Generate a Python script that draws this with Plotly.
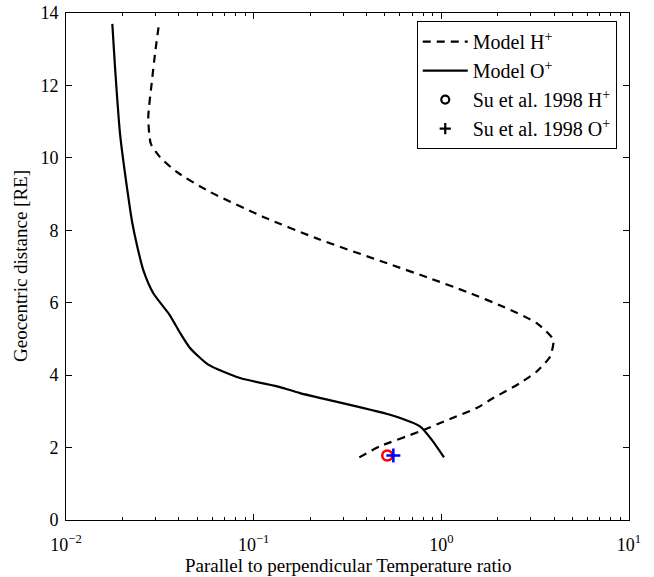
import plotly.graph_objects as go

# Model H+ (dashed) : ratio vs geocentric distance
h_ratio = [0.3655, 0.471, 0.7697, 1.112, 1.543, 1.892, 2.625, 3.222, 3.793, 3.951,
           3.222, 2.138, 1.365, 0.870, 0.515, 0.2168, 0.1125, 0.0585, 0.0389, 0.0317,
           0.0283, 0.02745, 0.0286, 0.0298, 0.0313]
h_dist = [1.73, 2.034, 2.447, 2.789, 3.092, 3.367, 3.78, 4.10, 4.51, 4.974,
          5.434, 5.89, 6.30, 6.674, 7.087, 7.776, 8.37, 9.06, 9.61, 10.02,
          10.39, 11.13, 12.05, 12.87, 13.70]

# Model O+ (solid)
o_ratio = [1.033, 0.888, 0.7697, 0.5325, 0.1766, 0.138, 0.0846, 0.0573, 0.0458, 0.0405,
           0.0357, 0.02919, 0.02582, 0.02399, 0.02256, 0.02148, 0.0194, 0.01825, 0.01765]
o_dist = [1.73, 2.218, 2.585, 2.907, 3.505, 3.67, 3.92, 4.29, 4.75, 5.17,
          5.66, 6.26, 6.90, 7.545, 8.20, 8.92, 10.67, 12.50, 13.70]

# Su et al. 1998 observations
su_h_ratio = [0.515]
su_h_dist = [1.78]
su_o_ratio = [0.555]
su_o_dist = [1.78]

x_tickvals = [0.01, 0.1, 1, 10]
x_ticktext = ["10<sup>\u22122</sup>", "10<sup>\u22121</sup>", "10<sup>0</sup>", "10<sup>1</sup>"]
y_tickvals = [0, 2, 4, 6, 8, 10, 12, 14]

minor_x = [m * 10 ** e for e in (-2, -1, 0) for m in range(2, 10)]

font = "Liberation Serif, Times New Roman, serif"

fig = go.Figure()
fig.add_trace(go.Scatter(x=h_ratio, y=h_dist, mode="lines", name="Model H<sup>+</sup>",
                         line=dict(color="black", width=2.2, dash="8px,6px", shape="spline", smoothing=0.6)))
fig.add_trace(go.Scatter(x=o_ratio, y=o_dist, mode="lines", name="Model O<sup>+</sup>",
                         line=dict(color="black", width=2.2, shape="spline", smoothing=0.6)))
# legend entries (black markers as in reference legend)
fig.add_trace(go.Scatter(x=[None], y=[None], mode="markers", name="Su et al. 1998 H<sup>+</sup>",
                         marker=dict(symbol="circle-open", color="black", size=8, line=dict(width=2.2))))
fig.add_trace(go.Scatter(x=[None], y=[None], mode="markers", name="Su et al. 1998 O<sup>+</sup>",
                         marker=dict(symbol="cross-thin", color="black", size=8, line=dict(width=2.2, color="black"))))
# plotted observation markers
fig.add_trace(go.Scatter(x=su_h_ratio, y=su_h_dist, mode="markers", showlegend=False,
                         marker=dict(symbol="circle-open", color="red", size=10, line=dict(width=2.5, color="red"))))
fig.add_trace(go.Scatter(x=su_o_ratio, y=su_o_dist, mode="markers", showlegend=False,
                         marker=dict(symbol="cross-thin", color="blue", size=10, line=dict(width=2.5, color="blue"))))

fig.update_layout(
    width=654, height=577,
    margin=dict(l=66, r=25, t=13, b=57),
    paper_bgcolor="white", plot_bgcolor="white",
    font=dict(family=font, size=18, color="black"),
    legend=dict(x=0.623, y=0.984, xanchor="left", yanchor="top",
                bordercolor="black", borderwidth=1, bgcolor="white", itemwidth=45,
                font=dict(family=font, size=20), tracegroupgap=0),
    xaxis=dict(type="log", range=[-2, 1], tickvals=x_tickvals, ticktext=x_ticktext,
               ticks="inside", ticklen=6, tickcolor="black", showline=True, linecolor="black",
               linewidth=1, mirror="ticks", showgrid=False, zeroline=False, automargin=False,
               ticklabelstandoff=8,
               minor=dict(tickvals=minor_x, ticks="inside", ticklen=3, tickcolor="black", showgrid=False),
               tickfont=dict(size=18)),
    yaxis=dict(range=[0, 14], tickvals=y_tickvals, ticks="inside", ticklen=6, tickcolor="black",
               showline=True, linecolor="black", linewidth=1, mirror="ticks", showgrid=False,
               zeroline=False, automargin=False, ticklabelstandoff=3, tickfont=dict(size=18)),
    annotations=[
        dict(text="Parallel to perpendicular Temperature ratio", xref="paper", yref="paper",
             x=0.5, y=0, xanchor="center", yanchor="top", yshift=-33, showarrow=False,
             font=dict(family=font, size=19)),
        dict(text="Geocentric distance [RE]", xref="paper", yref="paper",
             x=0, y=0.5, xanchor="right", yanchor="middle", xshift=-33, textangle=-90,
             showarrow=False, font=dict(family=font, size=19)),
    ],
)

fig.write_html("out.html", config={"displayModeBar": False},
               post_script="document.body.style.margin='0';")
